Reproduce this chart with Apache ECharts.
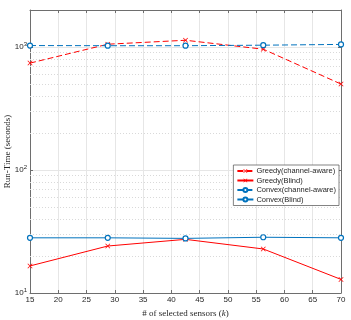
<!DOCTYPE html>
<html>
<head>
<meta charset="utf-8">
<script src="https://cdn.jsdelivr.net/npm/echarts@6/dist/echarts.min.js"></script>
<style>
  html, body { margin: 0; padding: 0; background: #fff; }
  #chart { width: 351px; height: 320px; }
</style>
</head>
<body>
<div id="chart"></div>
<script>
// number of selected sensors
const sensors = [15, 28.75, 42.5, 56.25, 70];

// run-time in seconds
const greedyAware = [740, 1054, 1135, 960, 500];
const greedyBlind = [16.6, 24.1, 27.3, 22.8, 12.9];
const convexAware = [1028, 1025, 1025, 1035, 1050];
const convexBlind = [28.1, 28.1, 27.8, 28.4, 28.1];

// dotted minor grid on the log axis
const minorY = [20, 30, 40, 50, 60, 70, 80, 90, 200, 300, 400, 500, 600, 700, 800, 900];

const RED = '#ff0000';
const BLUE = '#0072bd';
const AXIS = '#6e6e6e';
const TEXT = '#262626';
const CROSS = 'path://M0,1L1,0L5,4L9,0L10,1L6,5L10,9L9,10L5,6L1,10L0,9L4,5Z';

const pairs = (ys) => sensors.map((x, i) => [x, ys[i]]);

const chart = echarts.init(document.getElementById('chart'), null, { renderer: 'canvas' });

const makeSeries = (name, data, color, dashed, symbol) => ({
  name: name,
  type: 'line',
  data: pairs(data),
  symbol: symbol,
  symbolSize: 5,
  showSymbol: true,
  lineStyle: { color: color, width: 1, type: dashed ? [6, 3] : 'solid' },
  itemStyle: { color: symbol === CROSS ? color : '#fff', borderColor: color, borderWidth: symbol === CROSS ? 0 : 1.2 },
  emphasis: { disabled: true },
  animation: false,
  z: 5
});

const options = {
  animation: false,
  grid: { left: 30, right: 10, top: 10, bottom: 27, containLabel: false, outerBoundsMode: 'none' },
  legend: {
    orient: 'vertical',
    right: 12,
    top: 165,
    itemWidth: 16,
    itemHeight: 5,
    itemGap: 1.5,
    padding: [2, 3, 2, 3],
    backgroundColor: '#fff',
    borderColor: '#4d4d4d',
    borderWidth: 0.7,
    borderRadius: 0,
    textStyle: { fontFamily: 'Liberation Sans', fontSize: 7.5, lineHeight: 8, color: TEXT, padding: [0, 0, 0, -2] },
    data: ['Greedy(channel-aware)', 'Greedy(Blind)', 'Convex(channel-aware)', 'Convex(Blind)'],
    z: 10
  },
  xAxis: [{
    type: 'value',
    min: 15,
    max: 70,
    interval: 5,
    name: '# of selected sensors ({i|k})',
    nameLocation: 'middle',
    nameGap: 16,
    nameMoveOverlap: false,
    nameTextStyle: {
      fontFamily: 'Liberation Serif', fontSize: 9, color: TEXT,
      rich: { i: { fontFamily: 'Liberation Serif', fontStyle: 'italic', fontSize: 9, color: TEXT } }
    },
    axisLine: { show: true, lineStyle: { color: AXIS, width: 1 } },
    axisTick: { show: true, inside: true, length: 3, lineStyle: { color: AXIS } },
    axisLabel: { fontFamily: 'Liberation Sans', fontSize: 8, color: TEXT, margin: 3 },
    splitLine: { show: true, lineStyle: { color: '#e6e6e6', width: 1 } }
  }, {
    type: 'value',
    position: 'top',
    min: 15,
    max: 70,
    interval: 5,
    axisLine: { show: true, onZero: false, lineStyle: { color: AXIS, width: 1 } },
    axisTick: { show: true, inside: true, length: 3, lineStyle: { color: AXIS } },
    axisLabel: { show: false },
    splitLine: { show: false }
  }],
  yAxis: [{
    type: 'log',
    logBase: 10,
    min: 10,
    max: 2000,
    name: 'Run-Time (seconds)',
    nameLocation: 'middle',
    nameGap: 18,
    nameMoveOverlap: false,
    nameTextStyle: { fontFamily: 'Liberation Serif', fontSize: 9, color: TEXT },
    axisLine: { show: true, lineStyle: { color: AXIS, width: 1 } },
    axisTick: { show: true, inside: true, length: 3, lineStyle: { color: AXIS } },
    axisLabel: {
      margin: 3,
      formatter: (v) => {
        const p = Math.log10(v);
        if (Math.abs(p - Math.round(p)) > 1e-6) return '';
        return '{b|10}{s|' + Math.round(p) + '}';
      },
      rich: {
        b: { fontFamily: 'Liberation Sans', fontSize: 8, color: TEXT },
        s: { fontFamily: 'Liberation Sans', fontSize: 6, color: TEXT, verticalAlign: 'top', padding: [0, 0, 5, 0] }
      }
    },
    splitLine: { show: true, lineStyle: { color: '#e6e6e6', width: 1 } }
  }, {
    type: 'log',
    logBase: 10,
    min: 10,
    max: 2000,
    position: 'right',
    axisLine: { show: true, onZero: false, lineStyle: { color: AXIS, width: 1 } },
    axisTick: { show: true, inside: true, length: 3, lineStyle: { color: AXIS } },
    axisLabel: { show: false },
    splitLine: { show: false }
  }],
  series: [
    {
      name: 'minor-grid',
      type: 'line',
      data: [],
      silent: true,
      z: 1,
      markLine: {
        silent: true,
        symbol: 'none',
        label: { show: false },
        animation: false,
        lineStyle: { color: '#d9d9d9', width: 1, type: [1, 2] },
        emphasis: { disabled: true },
        data: minorY.map((v) => ({ yAxis: v }))
      }
    },
    makeSeries('Greedy(channel-aware)', greedyAware, RED, true, CROSS),
    makeSeries('Greedy(Blind)', greedyBlind, RED, false, CROSS),
    makeSeries('Convex(channel-aware)', convexAware, BLUE, true, 'circle'),
    makeSeries('Convex(Blind)', convexBlind, BLUE, false, 'circle')
  ]
};

chart.setOption(options);
</script>
</body>
</html>
